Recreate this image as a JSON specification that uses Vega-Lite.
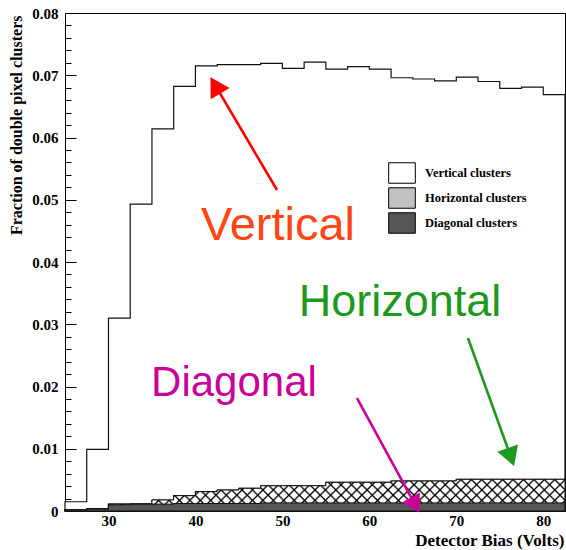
{
  "$schema": "https://vega.github.io/schema/vega-lite/v6.json",
  "width": 500,
  "height": 498,
  "autosize": {"type": "none"},
  "padding": {"left": 65, "top": 13, "right": 1, "bottom": 39},
  "background": "white",
  "config": {
    "view": {"stroke": "black", "strokeWidth": 1},
    "axis": {"grid": false, "domain": false, "labelColor": "black", "titleColor": "black", "tickColor": "black"}
  },
  "datasets": {
    "hist": [
      {"bias": 25, "cluster": "Vertical clusters", "fraction": 0.00149},
      {"bias": 27.5, "cluster": "Vertical clusters", "fraction": 0.00991},
      {"bias": 30, "cluster": "Vertical clusters", "fraction": 0.0310},
      {"bias": 32.5, "cluster": "Vertical clusters", "fraction": 0.0493},
      {"bias": 35, "cluster": "Vertical clusters", "fraction": 0.0614},
      {"bias": 37.5, "cluster": "Vertical clusters", "fraction": 0.0682},
      {"bias": 40, "cluster": "Vertical clusters", "fraction": 0.0715},
      {"bias": 42.5, "cluster": "Vertical clusters", "fraction": 0.0717},
      {"bias": 45, "cluster": "Vertical clusters", "fraction": 0.0717},
      {"bias": 47.5, "cluster": "Vertical clusters", "fraction": 0.0719},
      {"bias": 50, "cluster": "Vertical clusters", "fraction": 0.0711},
      {"bias": 52.5, "cluster": "Vertical clusters", "fraction": 0.0721},
      {"bias": 55, "cluster": "Vertical clusters", "fraction": 0.0710},
      {"bias": 57.5, "cluster": "Vertical clusters", "fraction": 0.0714},
      {"bias": 60, "cluster": "Vertical clusters", "fraction": 0.0710},
      {"bias": 62.5, "cluster": "Vertical clusters", "fraction": 0.0696},
      {"bias": 65, "cluster": "Vertical clusters", "fraction": 0.0694},
      {"bias": 67.5, "cluster": "Vertical clusters", "fraction": 0.0691},
      {"bias": 70, "cluster": "Vertical clusters", "fraction": 0.0697},
      {"bias": 72.5, "cluster": "Vertical clusters", "fraction": 0.0690},
      {"bias": 75, "cluster": "Vertical clusters", "fraction": 0.0679},
      {"bias": 77.5, "cluster": "Vertical clusters", "fraction": 0.0681},
      {"bias": 80, "cluster": "Vertical clusters", "fraction": 0.0669},
      {"bias": 82.5, "cluster": "Vertical clusters", "fraction": 0.0669},
      {"bias": 25, "cluster": "Horizontal clusters", "fraction": 0.0002},
      {"bias": 27.5, "cluster": "Horizontal clusters", "fraction": 0.0004},
      {"bias": 30, "cluster": "Horizontal clusters", "fraction": 0.00112},
      {"bias": 32.5, "cluster": "Horizontal clusters", "fraction": 0.00112},
      {"bias": 35, "cluster": "Horizontal clusters", "fraction": 0.00177},
      {"bias": 37.5, "cluster": "Horizontal clusters", "fraction": 0.00246},
      {"bias": 40, "cluster": "Horizontal clusters", "fraction": 0.00310},
      {"bias": 42.5, "cluster": "Horizontal clusters", "fraction": 0.00337},
      {"bias": 45, "cluster": "Horizontal clusters", "fraction": 0.00365},
      {"bias": 47.5, "cluster": "Horizontal clusters", "fraction": 0.00406},
      {"bias": 50, "cluster": "Horizontal clusters", "fraction": 0.00406},
      {"bias": 52.5, "cluster": "Horizontal clusters", "fraction": 0.00406},
      {"bias": 55, "cluster": "Horizontal clusters", "fraction": 0.00461},
      {"bias": 57.5, "cluster": "Horizontal clusters", "fraction": 0.00461},
      {"bias": 60, "cluster": "Horizontal clusters", "fraction": 0.00461},
      {"bias": 62.5, "cluster": "Horizontal clusters", "fraction": 0.00482},
      {"bias": 65, "cluster": "Horizontal clusters", "fraction": 0.00482},
      {"bias": 67.5, "cluster": "Horizontal clusters", "fraction": 0.00482},
      {"bias": 70, "cluster": "Horizontal clusters", "fraction": 0.00509},
      {"bias": 72.5, "cluster": "Horizontal clusters", "fraction": 0.00509},
      {"bias": 75, "cluster": "Horizontal clusters", "fraction": 0.00509},
      {"bias": 77.5, "cluster": "Horizontal clusters", "fraction": 0.00509},
      {"bias": 80, "cluster": "Horizontal clusters", "fraction": 0.00509},
      {"bias": 82.5, "cluster": "Horizontal clusters", "fraction": 0.00509},
      {"bias": 25, "cluster": "Diagonal clusters", "fraction": 0.0002},
      {"bias": 27.5, "cluster": "Diagonal clusters", "fraction": 0.0003},
      {"bias": 30, "cluster": "Diagonal clusters", "fraction": 0.0010},
      {"bias": 32.5, "cluster": "Diagonal clusters", "fraction": 0.0011},
      {"bias": 35, "cluster": "Diagonal clusters", "fraction": 0.0011},
      {"bias": 37.5, "cluster": "Diagonal clusters", "fraction": 0.0012},
      {"bias": 40, "cluster": "Diagonal clusters", "fraction": 0.0012},
      {"bias": 42.5, "cluster": "Diagonal clusters", "fraction": 0.0012},
      {"bias": 45, "cluster": "Diagonal clusters", "fraction": 0.0012},
      {"bias": 47.5, "cluster": "Diagonal clusters", "fraction": 0.0013},
      {"bias": 50, "cluster": "Diagonal clusters", "fraction": 0.0013},
      {"bias": 52.5, "cluster": "Diagonal clusters", "fraction": 0.0013},
      {"bias": 55, "cluster": "Diagonal clusters", "fraction": 0.0013},
      {"bias": 57.5, "cluster": "Diagonal clusters", "fraction": 0.0013},
      {"bias": 60, "cluster": "Diagonal clusters", "fraction": 0.0013},
      {"bias": 62.5, "cluster": "Diagonal clusters", "fraction": 0.0013},
      {"bias": 65, "cluster": "Diagonal clusters", "fraction": 0.0013},
      {"bias": 67.5, "cluster": "Diagonal clusters", "fraction": 0.0013},
      {"bias": 70, "cluster": "Diagonal clusters", "fraction": 0.0013},
      {"bias": 72.5, "cluster": "Diagonal clusters", "fraction": 0.0013},
      {"bias": 75, "cluster": "Diagonal clusters", "fraction": 0.0013},
      {"bias": 77.5, "cluster": "Diagonal clusters", "fraction": 0.0013},
      {"bias": 80, "cluster": "Diagonal clusters", "fraction": 0.0013},
      {"bias": 82.5, "cluster": "Diagonal clusters", "fraction": 0.0013}
    ],
    "notes": [
      {"label": "Vertical", "tx": 49.49, "ty": 0.04353, "ax": 49.38, "ay": 0.05157, "hx": 42.47, "hy": 0.06792},
      {"label": "Horizontal", "tx": 63.52, "ty": 0.0313, "ax": 71.34, "ay": 0.02779, "hx": 76.15, "hy": 0.00914},
      {"label": "Diagonal", "tx": 44.43, "ty": 0.01847, "ax": 58.58, "ay": 0.01815, "hx": 65.12, "hy": 0.00138}
    ]
  },
  "layer": [
    {
      "data": {"name": "hist"},
      "mark": {"type": "area", "interpolate": "step-after", "stroke": "#111111", "strokeWidth": 1.2, "opacity": 1},
      "encoding": {
        "x": {
          "field": "bias", "type": "quantitative",
          "scale": {"domain": [25, 82.5], "nice": false, "zero": false},
          "axis": {
            "values": [30, 40, 50, 60, 70, 80],
            "ticks": false,
            "labelPadding": 2,
            "labelFont": "Liberation Serif", "labelFontWeight": "bold", "labelFontSize": 15,
            "title": "Detector Bias (Volts)",
            "titleFont": "Liberation Serif", "titleFontWeight": "bold", "titleFontSize": 17,
            "titleAnchor": "end", "titleAlign": "right", "titleBaseline": "alphabetic",
            "titleX": 499, "titleY": 34
          }
        },
        "y": {
          "field": "fraction", "type": "quantitative", "stack": null,
          "scale": {"domain": [0, 0.08], "nice": false},
          "axis": {
            "values": [0, 0.01, 0.02, 0.03, 0.04, 0.05, 0.06, 0.07, 0.08],
            "tickSize": -11,
            "labelExpr": "datum.value == 0 ? '0' : format(datum.value, '.2f')",
            "labelOverlap": false,
            "labelPadding": 18,
            "labelFont": "Liberation Serif", "labelFontWeight": "bold", "labelFontSize": 15,
            "title": "Fraction of double pixel clusters",
            "titleFont": "Liberation Serif", "titleFontWeight": "bold", "titleFontSize": 16,
            "titleAnchor": "end", "titleAlign": "right", "titleAngle": 270, "titleBaseline": "alphabetic",
            "titleX": -44, "titleY": 2
          }
        },
        "fill": {
          "field": "cluster", "type": "nominal",
          "scale": {"domain": ["Vertical clusters", "Horizontal clusters", "Diagonal clusters"], "range": ["white", "#c2c2c2", "#555555"]},
          "legend": {
            "orient": "none", "legendX": 326, "legendY": 149, "title": null, "padding": 0,
            "symbolType": "M-1.3,-1L1.3,-1L1.3,1L-1.3,1Z", "symbolSize": 420,
            "symbolStrokeColor": "black", "symbolStrokeWidth": 1, "symbolOpacity": 1,
            "labelFont": "Liberation Serif", "labelFontWeight": "bold", "labelFontSize": 12.5, "labelColor": "black",
            "labelOffset": 12, "rowPadding": -1
          }
        }
      }
    },
    {
      "data": {"name": "hist"},
      "transform": [{"filter": "datum.cluster == 'Horizontal clusters'"}],
      "mark": {
        "type": "area", "interpolate": "step-after",
        "fill": {"gradient": "linear", "x1": 0, "y1": 0, "x2": 1.0591, "y2": 0.06715, "stops": [
          {"offset": 0, "color": "black"}, {"offset": 0.0035, "color": "white"},
          {"offset": 0.0161, "color": "white"}, {"offset": 0.0196, "color": "black"}, {"offset": 0.0231, "color": "white"},
          {"offset": 0.0357, "color": "white"}, {"offset": 0.0392, "color": "black"}, {"offset": 0.0427, "color": "white"},
          {"offset": 0.0553, "color": "white"}, {"offset": 0.0588, "color": "black"}, {"offset": 0.0623, "color": "white"},
          {"offset": 0.0749, "color": "white"}, {"offset": 0.0784, "color": "black"}, {"offset": 0.0819, "color": "white"},
          {"offset": 0.0945, "color": "white"}, {"offset": 0.0980, "color": "black"}, {"offset": 0.1015, "color": "white"},
          {"offset": 0.1141, "color": "white"}, {"offset": 0.1176, "color": "black"}, {"offset": 0.1211, "color": "white"},
          {"offset": 0.1338, "color": "white"}, {"offset": 0.1373, "color": "black"}, {"offset": 0.1408, "color": "white"},
          {"offset": 0.1534, "color": "white"}, {"offset": 0.1569, "color": "black"}, {"offset": 0.1604, "color": "white"},
          {"offset": 0.1730, "color": "white"}, {"offset": 0.1765, "color": "black"}, {"offset": 0.1800, "color": "white"},
          {"offset": 0.1926, "color": "white"}, {"offset": 0.1961, "color": "black"}, {"offset": 0.1996, "color": "white"},
          {"offset": 0.2122, "color": "white"}, {"offset": 0.2157, "color": "black"}, {"offset": 0.2192, "color": "white"},
          {"offset": 0.2318, "color": "white"}, {"offset": 0.2353, "color": "black"}, {"offset": 0.2388, "color": "white"},
          {"offset": 0.2514, "color": "white"}, {"offset": 0.2549, "color": "black"}, {"offset": 0.2584, "color": "white"},
          {"offset": 0.2710, "color": "white"}, {"offset": 0.2745, "color": "black"}, {"offset": 0.2780, "color": "white"},
          {"offset": 0.2906, "color": "white"}, {"offset": 0.2941, "color": "black"}, {"offset": 0.2976, "color": "white"},
          {"offset": 0.3102, "color": "white"}, {"offset": 0.3137, "color": "black"}, {"offset": 0.3172, "color": "white"},
          {"offset": 0.3298, "color": "white"}, {"offset": 0.3333, "color": "black"}, {"offset": 0.3368, "color": "white"},
          {"offset": 0.3494, "color": "white"}, {"offset": 0.3529, "color": "black"}, {"offset": 0.3564, "color": "white"},
          {"offset": 0.3690, "color": "white"}, {"offset": 0.3725, "color": "black"}, {"offset": 0.3760, "color": "white"},
          {"offset": 0.3887, "color": "white"}, {"offset": 0.3922, "color": "black"}, {"offset": 0.3957, "color": "white"},
          {"offset": 0.4083, "color": "white"}, {"offset": 0.4118, "color": "black"}, {"offset": 0.4153, "color": "white"},
          {"offset": 0.4279, "color": "white"}, {"offset": 0.4314, "color": "black"}, {"offset": 0.4349, "color": "white"},
          {"offset": 0.4475, "color": "white"}, {"offset": 0.4510, "color": "black"}, {"offset": 0.4545, "color": "white"},
          {"offset": 0.4671, "color": "white"}, {"offset": 0.4706, "color": "black"}, {"offset": 0.4741, "color": "white"},
          {"offset": 0.4867, "color": "white"}, {"offset": 0.4902, "color": "black"}, {"offset": 0.4937, "color": "white"},
          {"offset": 0.5063, "color": "white"}, {"offset": 0.5098, "color": "black"}, {"offset": 0.5133, "color": "white"},
          {"offset": 0.5259, "color": "white"}, {"offset": 0.5294, "color": "black"}, {"offset": 0.5329, "color": "white"},
          {"offset": 0.5455, "color": "white"}, {"offset": 0.5490, "color": "black"}, {"offset": 0.5525, "color": "white"},
          {"offset": 0.5651, "color": "white"}, {"offset": 0.5686, "color": "black"}, {"offset": 0.5721, "color": "white"},
          {"offset": 0.5847, "color": "white"}, {"offset": 0.5882, "color": "black"}, {"offset": 0.5917, "color": "white"},
          {"offset": 0.6043, "color": "white"}, {"offset": 0.6078, "color": "black"}, {"offset": 0.6113, "color": "white"},
          {"offset": 0.6240, "color": "white"}, {"offset": 0.6275, "color": "black"}, {"offset": 0.6310, "color": "white"},
          {"offset": 0.6436, "color": "white"}, {"offset": 0.6471, "color": "black"}, {"offset": 0.6506, "color": "white"},
          {"offset": 0.6632, "color": "white"}, {"offset": 0.6667, "color": "black"}, {"offset": 0.6702, "color": "white"},
          {"offset": 0.6828, "color": "white"}, {"offset": 0.6863, "color": "black"}, {"offset": 0.6898, "color": "white"},
          {"offset": 0.7024, "color": "white"}, {"offset": 0.7059, "color": "black"}, {"offset": 0.7094, "color": "white"},
          {"offset": 0.7220, "color": "white"}, {"offset": 0.7255, "color": "black"}, {"offset": 0.7290, "color": "white"},
          {"offset": 0.7416, "color": "white"}, {"offset": 0.7451, "color": "black"}, {"offset": 0.7486, "color": "white"},
          {"offset": 0.7612, "color": "white"}, {"offset": 0.7647, "color": "black"}, {"offset": 0.7682, "color": "white"},
          {"offset": 0.7808, "color": "white"}, {"offset": 0.7843, "color": "black"}, {"offset": 0.7878, "color": "white"},
          {"offset": 0.8004, "color": "white"}, {"offset": 0.8039, "color": "black"}, {"offset": 0.8074, "color": "white"},
          {"offset": 0.8200, "color": "white"}, {"offset": 0.8235, "color": "black"}, {"offset": 0.8270, "color": "white"},
          {"offset": 0.8396, "color": "white"}, {"offset": 0.8431, "color": "black"}, {"offset": 0.8466, "color": "white"},
          {"offset": 0.8592, "color": "white"}, {"offset": 0.8627, "color": "black"}, {"offset": 0.8662, "color": "white"},
          {"offset": 0.8789, "color": "white"}, {"offset": 0.8824, "color": "black"}, {"offset": 0.8859, "color": "white"},
          {"offset": 0.8985, "color": "white"}, {"offset": 0.9020, "color": "black"}, {"offset": 0.9055, "color": "white"},
          {"offset": 0.9181, "color": "white"}, {"offset": 0.9216, "color": "black"}, {"offset": 0.9251, "color": "white"},
          {"offset": 0.9377, "color": "white"}, {"offset": 0.9412, "color": "black"}, {"offset": 0.9447, "color": "white"},
          {"offset": 0.9573, "color": "white"}, {"offset": 0.9608, "color": "black"}, {"offset": 0.9643, "color": "white"},
          {"offset": 0.9769, "color": "white"}, {"offset": 0.9804, "color": "black"}, {"offset": 0.9839, "color": "white"},
          {"offset": 0.9965, "color": "white"}, {"offset": 1, "color": "black"}
        ]}
      },
      "encoding": {
        "x": {"field": "bias", "type": "quantitative"},
        "y": {"field": "fraction", "type": "quantitative", "stack": null, "axis": null}
      }
    },
    {
      "data": {"name": "hist"},
      "transform": [{"filter": "datum.cluster == 'Horizontal clusters'"}],
      "mark": {
        "type": "area", "interpolate": "step-after", "stroke": "#111111", "strokeWidth": 1,
        "fill": {"gradient": "linear", "x1": 0, "y1": 1, "x2": 1.0591, "y2": 0.93285, "stops": [
          {"offset": 0, "color": "black"}, {"offset": 0.0035, "color": "transparent"},
          {"offset": 0.0161, "color": "transparent"}, {"offset": 0.0196, "color": "black"}, {"offset": 0.0231, "color": "transparent"},
          {"offset": 0.0357, "color": "transparent"}, {"offset": 0.0392, "color": "black"}, {"offset": 0.0427, "color": "transparent"},
          {"offset": 0.0553, "color": "transparent"}, {"offset": 0.0588, "color": "black"}, {"offset": 0.0623, "color": "transparent"},
          {"offset": 0.0749, "color": "transparent"}, {"offset": 0.0784, "color": "black"}, {"offset": 0.0819, "color": "transparent"},
          {"offset": 0.0945, "color": "transparent"}, {"offset": 0.0980, "color": "black"}, {"offset": 0.1015, "color": "transparent"},
          {"offset": 0.1141, "color": "transparent"}, {"offset": 0.1176, "color": "black"}, {"offset": 0.1211, "color": "transparent"},
          {"offset": 0.1338, "color": "transparent"}, {"offset": 0.1373, "color": "black"}, {"offset": 0.1408, "color": "transparent"},
          {"offset": 0.1534, "color": "transparent"}, {"offset": 0.1569, "color": "black"}, {"offset": 0.1604, "color": "transparent"},
          {"offset": 0.1730, "color": "transparent"}, {"offset": 0.1765, "color": "black"}, {"offset": 0.1800, "color": "transparent"},
          {"offset": 0.1926, "color": "transparent"}, {"offset": 0.1961, "color": "black"}, {"offset": 0.1996, "color": "transparent"},
          {"offset": 0.2122, "color": "transparent"}, {"offset": 0.2157, "color": "black"}, {"offset": 0.2192, "color": "transparent"},
          {"offset": 0.2318, "color": "transparent"}, {"offset": 0.2353, "color": "black"}, {"offset": 0.2388, "color": "transparent"},
          {"offset": 0.2514, "color": "transparent"}, {"offset": 0.2549, "color": "black"}, {"offset": 0.2584, "color": "transparent"},
          {"offset": 0.2710, "color": "transparent"}, {"offset": 0.2745, "color": "black"}, {"offset": 0.2780, "color": "transparent"},
          {"offset": 0.2906, "color": "transparent"}, {"offset": 0.2941, "color": "black"}, {"offset": 0.2976, "color": "transparent"},
          {"offset": 0.3102, "color": "transparent"}, {"offset": 0.3137, "color": "black"}, {"offset": 0.3172, "color": "transparent"},
          {"offset": 0.3298, "color": "transparent"}, {"offset": 0.3333, "color": "black"}, {"offset": 0.3368, "color": "transparent"},
          {"offset": 0.3494, "color": "transparent"}, {"offset": 0.3529, "color": "black"}, {"offset": 0.3564, "color": "transparent"},
          {"offset": 0.3690, "color": "transparent"}, {"offset": 0.3725, "color": "black"}, {"offset": 0.3760, "color": "transparent"},
          {"offset": 0.3887, "color": "transparent"}, {"offset": 0.3922, "color": "black"}, {"offset": 0.3957, "color": "transparent"},
          {"offset": 0.4083, "color": "transparent"}, {"offset": 0.4118, "color": "black"}, {"offset": 0.4153, "color": "transparent"},
          {"offset": 0.4279, "color": "transparent"}, {"offset": 0.4314, "color": "black"}, {"offset": 0.4349, "color": "transparent"},
          {"offset": 0.4475, "color": "transparent"}, {"offset": 0.4510, "color": "black"}, {"offset": 0.4545, "color": "transparent"},
          {"offset": 0.4671, "color": "transparent"}, {"offset": 0.4706, "color": "black"}, {"offset": 0.4741, "color": "transparent"},
          {"offset": 0.4867, "color": "transparent"}, {"offset": 0.4902, "color": "black"}, {"offset": 0.4937, "color": "transparent"},
          {"offset": 0.5063, "color": "transparent"}, {"offset": 0.5098, "color": "black"}, {"offset": 0.5133, "color": "transparent"},
          {"offset": 0.5259, "color": "transparent"}, {"offset": 0.5294, "color": "black"}, {"offset": 0.5329, "color": "transparent"},
          {"offset": 0.5455, "color": "transparent"}, {"offset": 0.5490, "color": "black"}, {"offset": 0.5525, "color": "transparent"},
          {"offset": 0.5651, "color": "transparent"}, {"offset": 0.5686, "color": "black"}, {"offset": 0.5721, "color": "transparent"},
          {"offset": 0.5847, "color": "transparent"}, {"offset": 0.5882, "color": "black"}, {"offset": 0.5917, "color": "transparent"},
          {"offset": 0.6043, "color": "transparent"}, {"offset": 0.6078, "color": "black"}, {"offset": 0.6113, "color": "transparent"},
          {"offset": 0.6240, "color": "transparent"}, {"offset": 0.6275, "color": "black"}, {"offset": 0.6310, "color": "transparent"},
          {"offset": 0.6436, "color": "transparent"}, {"offset": 0.6471, "color": "black"}, {"offset": 0.6506, "color": "transparent"},
          {"offset": 0.6632, "color": "transparent"}, {"offset": 0.6667, "color": "black"}, {"offset": 0.6702, "color": "transparent"},
          {"offset": 0.6828, "color": "transparent"}, {"offset": 0.6863, "color": "black"}, {"offset": 0.6898, "color": "transparent"},
          {"offset": 0.7024, "color": "transparent"}, {"offset": 0.7059, "color": "black"}, {"offset": 0.7094, "color": "transparent"},
          {"offset": 0.7220, "color": "transparent"}, {"offset": 0.7255, "color": "black"}, {"offset": 0.7290, "color": "transparent"},
          {"offset": 0.7416, "color": "transparent"}, {"offset": 0.7451, "color": "black"}, {"offset": 0.7486, "color": "transparent"},
          {"offset": 0.7612, "color": "transparent"}, {"offset": 0.7647, "color": "black"}, {"offset": 0.7682, "color": "transparent"},
          {"offset": 0.7808, "color": "transparent"}, {"offset": 0.7843, "color": "black"}, {"offset": 0.7878, "color": "transparent"},
          {"offset": 0.8004, "color": "transparent"}, {"offset": 0.8039, "color": "black"}, {"offset": 0.8074, "color": "transparent"},
          {"offset": 0.8200, "color": "transparent"}, {"offset": 0.8235, "color": "black"}, {"offset": 0.8270, "color": "transparent"},
          {"offset": 0.8396, "color": "transparent"}, {"offset": 0.8431, "color": "black"}, {"offset": 0.8466, "color": "transparent"},
          {"offset": 0.8592, "color": "transparent"}, {"offset": 0.8627, "color": "black"}, {"offset": 0.8662, "color": "transparent"},
          {"offset": 0.8789, "color": "transparent"}, {"offset": 0.8824, "color": "black"}, {"offset": 0.8859, "color": "transparent"},
          {"offset": 0.8985, "color": "transparent"}, {"offset": 0.9020, "color": "black"}, {"offset": 0.9055, "color": "transparent"},
          {"offset": 0.9181, "color": "transparent"}, {"offset": 0.9216, "color": "black"}, {"offset": 0.9251, "color": "transparent"},
          {"offset": 0.9377, "color": "transparent"}, {"offset": 0.9412, "color": "black"}, {"offset": 0.9447, "color": "transparent"},
          {"offset": 0.9573, "color": "transparent"}, {"offset": 0.9608, "color": "black"}, {"offset": 0.9643, "color": "transparent"},
          {"offset": 0.9769, "color": "transparent"}, {"offset": 0.9804, "color": "black"}, {"offset": 0.9839, "color": "transparent"},
          {"offset": 0.9965, "color": "transparent"}, {"offset": 1, "color": "black"}
        ]}
      },
      "encoding": {
        "x": {"field": "bias", "type": "quantitative"},
        "y": {"field": "fraction", "type": "quantitative", "stack": null, "axis": null}
      }
    },
    {
      "data": {"name": "hist"},
      "transform": [{"filter": "datum.cluster == 'Diagonal clusters'"}],
      "mark": {"type": "area", "interpolate": "step-after", "fill": "#555555", "stroke": "#111111", "strokeWidth": 1, "opacity": 1},
      "encoding": {
        "x": {"field": "bias", "type": "quantitative"},
        "y": {"field": "fraction", "type": "quantitative", "stack": null, "axis": null}
      }
    },
    {
      "data": {"name": "notes"},
      "mark": {"type": "rule", "strokeWidth": 2.6},
      "encoding": {
        "x": {"field": "ax", "type": "quantitative"},
        "y": {"field": "ay", "type": "quantitative",
          "axis": {
            "values": [0.002, 0.004, 0.006, 0.008, 0.012, 0.014, 0.016, 0.018, 0.022, 0.024, 0.026, 0.028, 0.032, 0.034, 0.036, 0.038, 0.042, 0.044, 0.046, 0.048, 0.052, 0.054, 0.056, 0.058, 0.062, 0.064, 0.066, 0.068, 0.072, 0.074, 0.076, 0.078],
            "orient": "left", "tickSize": -6, "labels": false, "title": null, "domain": false, "grid": false
          }
        },
        "x2": {"field": "hx"},
        "y2": {"field": "hy"},
        "stroke": {"field": "label", "type": "nominal", "scale": {"domain": ["Vertical", "Horizontal", "Diagonal"], "range": ["#ff0000", "#1e991e", "#cc0099"]}, "legend": null}
      }
    },
    {
      "data": {"name": "notes"},
      "transform": [{"filter": "datum.label == 'Vertical'"}],
      "mark": {"type": "point", "shape": "triangle", "filled": true, "size": 484, "angle": 329.3, "color": "#ff0000", "opacity": 1},
      "encoding": {"x": {"field": "hx", "type": "quantitative"}, "y": {"field": "hy", "type": "quantitative", "axis": null}}
    },
    {
      "data": {"name": "notes"},
      "transform": [{"filter": "datum.label == 'Horizontal'"}],
      "mark": {"type": "point", "shape": "triangle", "filled": true, "size": 484, "angle": 160.2, "color": "#1e991e", "opacity": 1},
      "encoding": {"x": {"field": "hx", "type": "quantitative"}, "y": {"field": "hy", "type": "quantitative", "axis": null}}
    },
    {
      "data": {"name": "notes"},
      "transform": [{"filter": "datum.label == 'Diagonal'"}],
      "mark": {"type": "point", "shape": "triangle", "filled": true, "size": 400, "angle": 151.4, "color": "#cc0099", "opacity": 1},
      "encoding": {"x": {"field": "hx", "type": "quantitative"}, "y": {"field": "hy", "type": "quantitative", "axis": null}}
    },
    {
      "data": {"name": "notes"},
      "transform": [{"filter": "datum.label == 'Vertical'"}],
      "mark": {"type": "text", "font": "Liberation Sans", "fontSize": 47, "align": "center", "baseline": "alphabetic", "color": "#ff4513"},
      "encoding": {"x": {"field": "tx", "type": "quantitative"}, "y": {"field": "ty", "type": "quantitative", "axis": null}, "text": {"field": "label"}}
    },
    {
      "data": {"name": "notes"},
      "transform": [{"filter": "datum.label == 'Horizontal'"}],
      "mark": {"type": "text", "font": "Liberation Sans", "fontSize": 45, "align": "center", "baseline": "alphabetic", "color": "#1e991e"},
      "encoding": {"x": {"field": "tx", "type": "quantitative"}, "y": {"field": "ty", "type": "quantitative", "axis": null}, "text": {"field": "label"}}
    },
    {
      "data": {"name": "notes"},
      "transform": [{"filter": "datum.label == 'Diagonal'"}],
      "mark": {"type": "text", "font": "Liberation Sans", "fontSize": 42, "align": "center", "baseline": "alphabetic", "color": "#cc0099"},
      "encoding": {"x": {"field": "tx", "type": "quantitative"}, "y": {"field": "ty", "type": "quantitative", "axis": null}, "text": {"field": "label"}}
    }
  ],
  "resolve": {"axis": {"y": "independent"}}
}
